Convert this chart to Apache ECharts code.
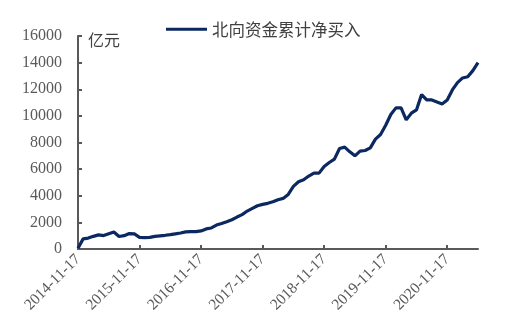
<!DOCTYPE html>
<html><head><meta charset="utf-8">
<script src="https://cdn.jsdelivr.net/npm/echarts@6/dist/echarts.min.js"></script>
<style>html,body{margin:0;padding:0;background:#fff}#c{width:511px;height:333px}</style>
</head><body><div id="c"></div>
<script>
var categories = [
"2014-11-17","2014-12-17","2015-01-17","2015-02-17","2015-03-17","2015-04-17","2015-05-17","2015-06-17","2015-07-17","2015-08-17","2015-09-17","2015-10-17",
"2015-11-17","2015-12-17","2016-01-17","2016-02-17","2016-03-17","2016-04-17","2016-05-17","2016-06-17","2016-07-17","2016-08-17","2016-09-17","2016-10-17",
"2016-11-17","2016-12-17","2017-01-17","2017-02-17","2017-03-17","2017-04-17","2017-05-17","2017-06-17","2017-07-17","2017-08-17","2017-09-17","2017-10-17",
"2017-11-17","2017-12-17","2018-01-17","2018-02-17","2018-03-17","2018-04-17","2018-05-17","2018-06-17","2018-07-17","2018-08-17","2018-09-17","2018-10-17",
"2018-11-17","2018-12-17","2019-01-17","2019-02-17","2019-03-17","2019-04-17","2019-05-17","2019-06-17","2019-07-17","2019-08-17","2019-09-17","2019-10-17",
"2019-11-17","2019-12-17","2020-01-17","2020-02-17","2020-03-17","2020-04-17","2020-05-17","2020-06-17","2020-07-17","2020-08-17","2020-09-17","2020-10-17",
"2020-11-17","2020-12-17","2021-01-17","2021-02-17","2021-03-17","2021-04-17","2021-05-17"
];
var northboundNet = [
50,760,820,950,1060,1010,1150,1280,940,1000,1160,1130,
880,860,870,950,990,1030,1080,1140,1200,1290,1300,1310,
1360,1510,1580,1800,1920,2050,2200,2400,2580,2850,3050,3250,
3350,3430,3550,3700,3800,4100,4700,5050,5200,5480,5700,5700,
6200,6500,6750,7550,7650,7300,7000,7350,7400,7600,8250,8600,
9300,10100,10600,10600,9700,10200,10450,11600,11200,11200,11050,10900,
11200,11950,12500,12850,12940,13400,14000
];
var tickLabels = ["2014-11-17","2015-11-17","2016-11-17","2017-11-17","2018-11-17","2019-11-17","2020-11-17"];
var seriesName = "北向资金累计净买入";
var unitName = "亿元";

var chart = echarts.init(document.getElementById('c'));
var axisColor = '#595959';
function showTick(i, v){ return tickLabels.indexOf(v) >= 0; }
chart.setOption({
  animation: false,
  legend: {
    top: 16, left: 161,
    icon: 'rect', itemWidth: 41, itemHeight: 3, itemGap: 10,
    textStyle: { fontSize: 16.5, color: '#404040', fontFamily: 'Noto Sans CJK SC', padding: [0,0,0,0] },
    data: [seriesName]
  },
  grid: { left: 78, right: 33, top: 36, bottom: 84, containLabel: false },
  xAxis: {
    type: 'category', data: categories, boundaryGap: false,
    axisLine: { lineStyle: { color: axisColor, width: 2 } },
    axisTick: { inside: true, length: 4, interval: showTick, lineStyle: { color: axisColor, width: 2 } },
    axisLabel: { interval: showTick, rotate: 45, fontSize: 15.5, color: '#595959', fontFamily: 'Liberation Serif', margin: 8 },
    splitLine: { show: false }
  },
  yAxis: {
    type: 'value', min: 0, max: 16000, interval: 2000,
    name: unitName, nameLocation: 'end', nameGap: -4,
    nameTextStyle: { fontSize: 16, color: '#404040', align: 'left', verticalAlign: 'middle', padding: [0,0,0,10], fontFamily: 'Noto Sans CJK SC' },
    axisLine: { show: true, lineStyle: { color: axisColor, width: 2 } },
    axisTick: { show: true, inside: true, length: 4, lineStyle: { color: axisColor, width: 2 } },
    axisLabel: { fontSize: 16, color: '#595959', fontFamily: 'Liberation Serif', margin: 16, formatter: function(v){ return String(v); } },
    splitLine: { show: false }
  },
  series: [{
    name: seriesName, type: 'line', data: northboundNet,
    symbol: 'none', smooth: false,
    lineStyle: { color: '#0c2860', width: 3.2 },
    itemStyle: { color: '#0c2860' }
  }]
});
</script></body></html>
